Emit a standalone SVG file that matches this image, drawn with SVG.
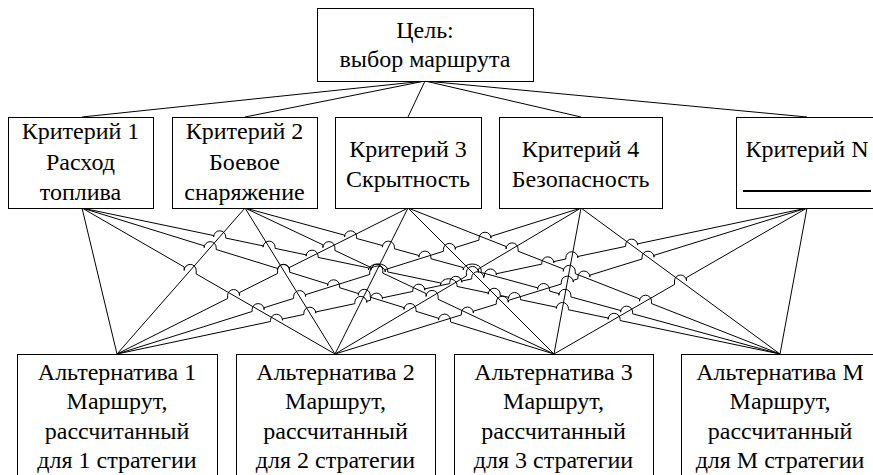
<svg xmlns="http://www.w3.org/2000/svg" width="873" height="475" viewBox="0 0 873 475">
<style>
.box{fill:#fff;stroke:#000;stroke-width:1}
.ln{fill:none;stroke:#000;stroke-width:1}
.t{font-size:24px;fill:#000;text-anchor:middle}
</style>
<rect x="0" y="0" width="873" height="475" fill="#fff"/>
<g id="connectors" class="ln">
<path d="M425,81 L82,117 M425,81 L245,117 M425,81 L408,117 M425,81 L581,117 M425,81 L807,117"/>
<path d="M82,208 L117,354 M245,208 L117,354 M245,208 L335,354 M408,208 L335,354 M408,208 L554,354 M581,208 L554,354 M581,208 L780,354 M807,208 L780,354"/>
<path d="M82,208 L184.2,267 L184.2,270.4 A6,6 0 0 1 196.2,270.4 L196.2,273.9 L335,354"/>
<path d="M82,208 L204.2,245.8 L204.2,247.65 A6,6 0 0 1 216.2,247.65 L216.2,249.5 L277.4,268.4 L277.4,270.3 A6.15,6 0 0 1 289.7,270.3 L289.7,272.25 L327.6,284 L327.6,285.8 A6,6 0 0 1 339.6,285.8 L339.6,287.7 L358.3,293.5 L358.3,295.3 A6,6 0 0 1 370.3,295.3 L370.3,297.2 L404,307.6 L404,309.5 A6,6 0 0 1 416,309.5 L416,311.3 L438.5,318.3 L438.5,320.1 A6,6 0 0 1 450.5,320.1 L450.5,322 L554,354"/>
<path d="M82,208 L213.7,235.55 L213.7,236.8 A6,6 0 0 1 225.7,236.8 L225.7,238.06 L263.1,245.88 L263.1,247.14 A6,6 0 0 1 275.1,247.14 L275.1,248.39 L306.1,254.87 L306.1,256.13 A6,6 0 0 1 318.1,256.13 L318.1,257.38 L368.5,267.93 L368.5,269.93 A9.6,6 0 0 1 387.7,269.93 L387.7,271.94 L440.6,283.01 L440.6,284.72 A8.2,6 0 0 1 457,284.72 L457,286.44 L488.2,292.96 L488.2,294.22 A6,6 0 0 1 500.2,294.22 L500.2,295.47 L508.5,297.21 L508.5,298.47 A6,6 0 0 1 520.5,298.47 L520.5,299.72 L556.4,307.23 L556.4,308.48 A6,6 0 0 1 568.4,308.48 L568.4,309.74 L608.1,318.05 L608.1,319.3 A6,6 0 0 1 620.1,319.3 L620.1,320.55 L780,354"/>
<path d="M245,208 L322.9,244.81 L322.9,247.64 A6,6 0 0 1 334.9,247.64 L334.9,250.48 L370.8,267.44 L370.8,270.27 A6,6 0 0 1 382.8,270.27 L382.8,273.11 L426.1,293.57 L426.1,296.4 A6,6 0 0 1 438.1,296.4 L438.1,299.24 L554,354"/>
<path d="M245,208 L344.6,235.18 L344.6,236.82 A6,6 0 0 1 356.6,236.82 L356.6,238.46 L382.4,245.5 L382.4,247.13 A6,6 0 0 1 394.4,247.13 L394.4,248.77 L418.9,255.46 L418.9,257.09 A6,6 0 0 1 430.9,257.09 L430.9,258.73 L463.2,267.55 L463.2,270 A9,6 0 0 1 481.2,270 L481.2,272.46 L537.6,287.85 L537.6,289.49 A6,6 0 0 1 549.6,289.49 L549.6,291.12 L558.9,293.66 L558.9,295.3 A6,6 0 0 1 570.9,295.3 L570.9,296.94 L620.6,310.5 L620.6,312.14 A6,6 0 0 1 632.6,312.14 L632.6,313.77 L780,354"/>
<path d="M117,354 L227.6,298.51 L227.6,295.5 A6,6 0 0 1 239.6,295.5 L239.6,292.49 L277.5,273.47 L277.5,270.46 A6,6 0 0 1 289.5,270.46 L289.5,267.45 L408,208"/>
<path d="M408,208 L506.1,246.5 L506.1,248.86 A6,6 0 0 1 518.1,248.86 L518.1,251.21 L563.3,268.95 L563.3,271.31 A6,6 0 0 1 575.3,271.31 L575.3,273.66 L639.5,298.86 L639.5,301.21 A6,6 0 0 1 651.5,301.21 L651.5,303.57 L780,354"/>
<path d="M117,354 L252.1,311.49 L252.1,309.6 A6,6 0 0 1 264.1,309.6 L264.1,307.71 L293.6,298.43 L293.6,296.54 A6,6 0 0 1 305.6,296.54 L305.6,294.66 L369.7,274.49 L369.7,272.03 A7.8,6 0 0 1 385.3,272.03 L385.3,269.58 L443.4,251.3 L443.4,249.41 A6,6 0 0 1 455.4,249.41 L455.4,247.52 L479,240.1 L479,238.21 A6,6 0 0 1 491,238.21 L491,236.32 L581,208"/>
<path d="M335,354 L466.4,276.02 L466.4,272.45 A6,6 0 0 1 478.4,272.45 L478.4,268.89 L581,208"/>
<path d="M117,354 L270.5,321.52 L270.5,320.25 A6,6 0 0 1 282.5,320.25 L282.5,318.98 L303.8,314.47 L303.8,313.2 A6,6 0 0 1 315.8,313.2 L315.8,311.94 L354.8,303.68 L354.8,302.41 A6,6 0 0 1 366.8,302.41 L366.8,301.14 L370.5,300.36 L370.5,299.09 A6,6 0 0 1 382.5,299.09 L382.5,297.82 L412.8,291.41 L412.8,290.14 A6,6 0 0 1 424.8,290.14 L424.8,288.87 L449.8,283.58 L449.8,282.31 A6,6 0 0 1 461.8,282.31 L461.8,281.04 L471.7,278.95 L471.7,277.68 A6,6 0 0 1 483.7,277.68 L483.7,276.41 L484.4,276.26 L484.4,274.99 A6,6 0 0 1 496.4,274.99 L496.4,273.72 L541.8,264.11 L541.8,262.85 A6,6 0 0 1 553.8,262.85 L553.8,261.58 L565.8,259.04 L565.8,257.77 A6,6 0 0 1 577.8,257.77 L577.8,256.5 L625.6,246.38 L625.6,245.11 A6,6 0 0 1 637.6,245.11 L637.6,243.85 L807,208"/>
<path d="M335,354 L461.4,314.9 L461.4,313.05 A6,6 0 0 1 473.4,313.05 L473.4,311.19 L496.3,304.11 L496.3,302.25 A6,6 0 0 1 508.3,302.25 L508.3,300.39 L561.3,284 L561.3,282.14 A6,6 0 0 1 573.3,282.14 L573.3,280.29 L577.9,278.87 L577.9,277.01 A6,6 0 0 1 589.9,277.01 L589.9,275.15 L642,259.04 L642,257.18 A6,6 0 0 1 654,257.18 L654,255.33 L807,208"/>
<path d="M554,354 L674.5,284.46 L674.5,281 A6,6 0 0 1 686.5,281 L686.5,277.54 L807,208"/>
</g>
<g font-family="'Liberation Serif', 'DejaVu Serif', serif">
<g id="goal">
<rect class="box" x="317.5" y="8.5" width="216" height="73"/>
<text class="t" x="425" y="38">Цель:</text>
<text class="t" x="425" y="67">выбор маршрута</text>
</g>
<g id="crit1">
<rect class="box" x="8.5" y="117.5" width="145" height="91"/>
<text class="t" x="80.5" y="139">Критерий 1</text>
<text class="t" x="80.5" y="170">Расход</text>
<text class="t" x="80.5" y="200">топлива</text>
</g>
<g id="crit2">
<rect class="box" x="172.5" y="117.5" width="145" height="91"/>
<text class="t" x="244.5" y="139">Критерий 2</text>
<text class="t" x="244.5" y="170">Боевое</text>
<text class="t" x="244.5" y="200">снаряжение</text>
</g>
<g id="crit3">
<rect class="box" x="335.5" y="117.5" width="146" height="91"/>
<text class="t" x="408" y="157">Критерий 3</text>
<text class="t" x="408" y="187">Скрытность</text>
</g>
<g id="crit4">
<rect class="box" x="499.5" y="117.5" width="163" height="91"/>
<text class="t" x="580.5" y="157">Критерий 4</text>
<text class="t" x="580.5" y="187">Безопасность</text>
</g>
<g id="critN">
<rect class="box" x="736.5" y="117.5" width="142" height="91"/>
<text class="t" x="807" y="157">Критерий N</text>
<line x1="743" y1="191" x2="871" y2="191" stroke="#000" stroke-width="2"/>
</g>
<g id="alt1">
<rect class="box" x="17.5" y="354.5" width="200" height="130"/>
<text class="t" x="117" y="380">Альтернатива 1</text>
<text class="t" x="117" y="409">Маршрут,</text>
<text class="t" x="117" y="439">рассчитанный</text>
<text class="t" x="117" y="468">для 1 стратегии</text>
</g>
<g id="alt2">
<rect class="box" x="236.5" y="354.5" width="199" height="130"/>
<text class="t" x="335.5" y="380">Альтернатива 2</text>
<text class="t" x="335.5" y="409">Маршрут,</text>
<text class="t" x="335.5" y="439">рассчитанный</text>
<text class="t" x="335.5" y="468">для 2 стратегии</text>
</g>
<g id="alt3">
<rect class="box" x="454.5" y="354.5" width="199" height="130"/>
<text class="t" x="553.5" y="380">Альтернатива 3</text>
<text class="t" x="553.5" y="409">Маршрут,</text>
<text class="t" x="553.5" y="439">рассчитанный</text>
<text class="t" x="553.5" y="468">для 3 стратегии</text>
</g>
<g id="altM">
<rect class="box" x="681.5" y="354.5" width="198" height="130"/>
<text class="t" x="780" y="380">Альтернатива M</text>
<text class="t" x="780" y="409">Маршрут,</text>
<text class="t" x="780" y="439">рассчитанный</text>
<text class="t" x="780" y="468">для M стратегии</text>
</g>
</g>
</svg>
